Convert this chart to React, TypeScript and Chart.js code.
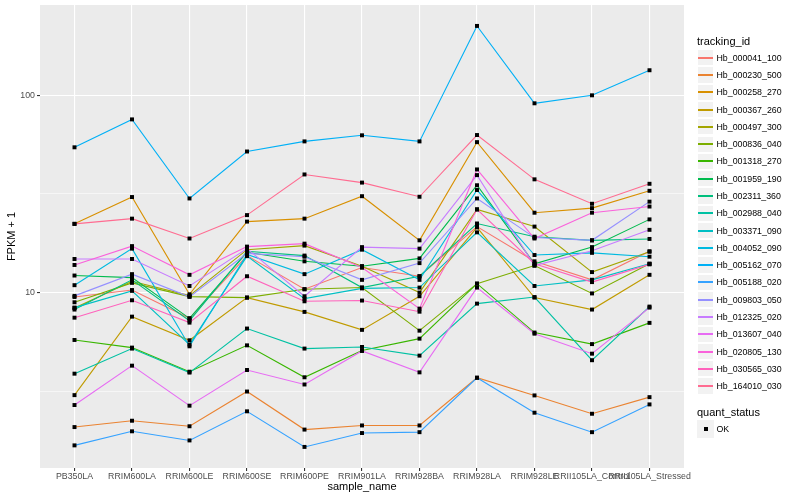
import React, { useEffect, useRef } from "react";
import { Chart, registerables } from "chart.js";

Chart.register(...registerables);

const categories = [
  "PB350LA",
  "RRIM600LA",
  "RRIM600LE",
  "RRIM600SE",
  "RRIM600PE",
  "RRIM901LA",
  "RRIM928BA",
  "RRIM928LA",
  "RRIM928LE",
  "RRII105LA_Control",
  "RRII105LA_Stressed",
];

const hb_000041_100 = [9.5, 10.3, 7.4, 15.4, 10.4, 13.4, 12.1, 21.6, 14.4, 11.6, 16.2];
const hb_000230_500 = [2.08, 2.24, 2.1, 3.15, 2.02, 2.12, 2.12, 3.7, 3.01, 2.43, 2.95];
const hb_000258_270 = [22.3, 30.5, 9.8, 22.9, 23.7, 30.8, 18.4, 57.9, 25.4, 26.8, 32.8];
const hb_000367_260 = [3.02, 7.55, 5.73, 9.43, 7.98, 6.47, 9.58, 21.4, 9.43, 8.2, 12.3];
const hb_000497_300 = [8.36, 11.4, 9.65, 16.5, 17.3, 13.6, 10.0, 26.4, 21.6, 12.7, 16.1];
const hb_000836_040 = [8.93, 11.2, 9.54, 9.43, 10.4, 10.6, 6.41, 11.1, 13.7, 9.9, 14.0];
const hb_001318_270 = [5.75, 5.26, 3.97, 5.4, 3.72, 5.08, 5.84, 11.1, 6.27, 5.48, 7.02];
const hb_001959_190 = [12.2, 11.9, 7.4, 16.0, 14.4, 13.6, 14.9, 35.0, 14.0, 17.0, 23.5];
const hb_002311_360 = [8.2, 11.6, 7.2, 16.2, 15.4, 10.6, 12.1, 22.4, 19.2, 18.4, 18.7];
const hb_002988_040 = [3.88, 5.2, 3.93, 6.57, 5.2, 5.3, 4.79, 8.79, 9.49, 4.54, 8.49];
const hb_003371_090 = [8.39, 10.2, 5.45, 15.3, 9.32, 10.5, 10.6, 20.2, 10.8, 11.6, 14.0];
const hb_004052_090 = [10.9, 16.7, 5.34, 15.6, 12.4, 16.5, 11.6, 33.1, 15.5, 15.9, 15.2];
const hb_005162_070 = [54.5, 75.5, 30.0, 51.9, 58.4, 62.7, 58.4, 224.8, 91.1, 100, 134];
const hb_005188_020 = [1.68, 1.98, 1.78, 2.5, 1.65, 1.94, 1.96, 3.7, 2.46, 1.96, 2.71];
const hb_009803_050 = [9.62, 12.4, 9.51, 15.8, 15.2, 11.6, 14.1, 30.0, 19.0, 18.4, 28.9];
const hb_012325_020 = [14.8, 14.8, 10.8, 16.7, 9.58, 17.0, 16.7, 39.4, 13.7, 16.3, 20.8];
const hb_013607_040 = [2.69, 4.26, 2.67, 4.05, 3.42, 5.06, 3.94, 10.6, 6.19, 4.9, 8.39];
const hb_020805_130 = [13.8, 17.2, 12.3, 17.1, 17.7, 13.4, 8.29, 42.1, 18.8, 25.4, 27.3];
const hb_030565_030 = [7.46, 9.14, 7.04, 12.1, 9.03, 9.11, 8.0, 26.4, 14.0, 11.3, 13.9];
const hb_164010_030 = [22.3, 23.7, 18.8, 24.7, 39.7, 36.1, 30.6, 62.9, 37.5, 28.2, 35.6];

const seriesNames = [
  "Hb_000041_100",
  "Hb_000230_500",
  "Hb_000258_270",
  "Hb_000367_260",
  "Hb_000497_300",
  "Hb_000836_040",
  "Hb_001318_270",
  "Hb_001959_190",
  "Hb_002311_360",
  "Hb_002988_040",
  "Hb_003371_090",
  "Hb_004052_090",
  "Hb_005162_070",
  "Hb_005188_020",
  "Hb_009803_050",
  "Hb_012325_020",
  "Hb_013607_040",
  "Hb_020805_130",
  "Hb_030565_030",
  "Hb_164010_030",
];

const seriesValues = [
  hb_000041_100,
  hb_000230_500,
  hb_000258_270,
  hb_000367_260,
  hb_000497_300,
  hb_000836_040,
  hb_001318_270,
  hb_001959_190,
  hb_002311_360,
  hb_002988_040,
  hb_003371_090,
  hb_004052_090,
  hb_005162_070,
  hb_005188_020,
  hb_009803_050,
  hb_012325_020,
  hb_013607_040,
  hb_020805_130,
  hb_030565_030,
  hb_164010_030,
];

const seriesColors = [
  "#F8766D",
  "#EA8331",
  "#D89000",
  "#C09B00",
  "#A3A500",
  "#7CAE00",
  "#39B600",
  "#00BB4E",
  "#00BF7D",
  "#00C1A3",
  "#00BFC4",
  "#00BAE0",
  "#00B0F6",
  "#35A2FF",
  "#9590FF",
  "#C77CFF",
  "#E76BF3",
  "#FA62DB",
  "#FF62BC",
  "#FF6C91",
];

const yMajorTicks = [10, 100];
const yMinorTicks = [3.1623, 31.623];
const yRange = [1.29, 287];

const FONT = "'Liberation Sans', Arial, Helvetica, sans-serif";

export default function App() {
  const ref = useRef<HTMLCanvasElement>(null);

  useEffect(() => {
    if (!ref.current) return;
    const panelBg = {
      id: "panelBg",
      beforeDraw(chart: any) {
        const { ctx, chartArea: a } = chart;
        ctx.save();
        ctx.fillStyle = "#EBEBEB";
        ctx.fillRect(a.left, a.top, a.right - a.left, a.bottom - a.top);
        ctx.restore();
      },
    };

    const lineSets = seriesValues.map((vals, i) => ({
      type: "line" as const,
      label: seriesNames[i],
      data: vals.map((v, j) => ({ x: j, y: v })),
      borderColor: seriesColors[i],
      backgroundColor: seriesColors[i],
      borderWidth: 1.1,
      pointRadius: 0,
      fill: false,
      tension: 0,
      order: 100 - i,
    }));
    const pointSets = seriesValues.map((vals, i) => ({
      type: "line" as const,
      label: seriesNames[i] + " OK",
      data: vals.map((v, j) => ({ x: j, y: v })),
      showLine: false,
      pointStyle: "rect",
      pointRadius: 2.8,
      pointBackgroundColor: "#000000",
      pointBorderColor: "#000000",
      pointBorderWidth: 0,
      order: 0,
    }));

    const allY = [...yMinorTicks, ...yMajorTicks].sort((a, b) => a - b);

    const chart = new Chart(ref.current, {
      type: "line",
      data: { datasets: [...lineSets, ...pointSets] as any },
      plugins: [panelBg],
      options: {
        animation: false,
        responsive: false,
        devicePixelRatio: 1,
        layout: { padding: { left: 0, right: 116, top: 5, bottom: 0 } },
        plugins: { legend: { display: false }, tooltip: { enabled: false } },
        scales: {
          x: {
            type: "linear",
            min: -0.6,
            max: categories.length - 1 + 0.6,
            afterBuildTicks: (s: any) => {
              s.ticks = categories.map((_, i) => ({ value: i }));
            },
            afterFit: (s: any) => {
              s.height = 32;
              s.paddingLeft = 0;
              s.paddingRight = 0;
            },
            ticks: {
              autoSkip: false,
              maxRotation: 0,
              minRotation: 0,
              padding: 0,
              color: "#4D4D4D",
              font: { family: FONT, size: 8.8 },
              callback: (v: any) => categories[v] ?? "",
            },
            grid: {
              color: "#FFFFFF",
              lineWidth: 1.1,
              drawTicks: true,
              tickLength: 3,
              tickColor: "#333333",
            },
            border: { display: false },
            title: {
              display: true,
              text: "sample_name",
              color: "#000000",
              font: { family: FONT, size: 11 },
              padding: { top: 0, bottom: 6 },
            },
          },
          y: {
            type: "logarithmic",
            min: yRange[0],
            max: yRange[1],
            afterBuildTicks: (s: any) => {
              s.ticks = allY.map((v) => ({ value: v }));
            },
            afterFit: (s: any) => {
              s.width = 40;
              s.paddingTop = 0;
              s.paddingBottom = 0;
            },
            ticks: {
              autoSkip: false,
              padding: 2,
              color: "#4D4D4D",
              font: { family: FONT, size: 8.8 },
              callback: (v: any) => (yMajorTicks.includes(v) ? String(v) : ""),
            },
            grid: {
              color: "#FFFFFF",
              lineWidth: (c: any) =>
                c.tick && yMajorTicks.includes(c.tick.value) ? 1.1 : 0.55,
              drawTicks: true,
              tickLength: 3,
              tickColor: (c: any) =>
                c.tick && yMajorTicks.includes(c.tick.value) ? "#333333" : "rgba(0,0,0,0)",
            },
            border: { display: false },
            title: {
              display: true,
              text: "FPKM + 1",
              color: "#000000",
              font: { family: FONT, size: 11 },
              padding: { top: 5, bottom: 0 },
            },
          },
        },
      } as any,
    });
    return () => chart.destroy();
  }, []);

  const rowH = 17.28;
  const firstTop = 49.1;
  const keyLeft = 697;
  const textLeft = 716.5;

  return (
    <div
      style={{
        position: "absolute",
        left: 0,
        top: 0,
        width: 800,
        height: 500,
        background: "#FFFFFF",
        fontFamily: FONT,
        overflow: "hidden",
      }}
    >
      <canvas ref={ref} width={800} height={500} style={{ position: "absolute", left: 0, top: 0 }} />
      <div
        style={{
          position: "absolute",
          left: keyLeft,
          top: 40.7 - 7,
          height: 14,
          lineHeight: "14px",
          fontSize: 11,
          color: "#000",
          whiteSpace: "nowrap",
        }}
      >
        tracking_id
      </div>
      {seriesNames.map((name, i) => {
        const top = firstTop + rowH * i;
        const center = Math.round(top + rowH / 2);
        return (
          <React.Fragment key={name}>
            <div
              style={{
                position: "absolute",
                left: keyLeft,
                top,
                width: rowH,
                height: rowH,
                background: "#F2F2F2",
                boxSizing: "border-box",
                border: "0.6px solid #FFFFFF",
              }}
            />
            <div
              style={{
                position: "absolute",
                left: keyLeft + 1,
                width: 15,
                top: center - 1,
                height: 1.6,
                background: seriesColors[i],
              }}
            />
            <div
              style={{
                position: "absolute",
                left: textLeft,
                top: top + rowH / 2 - 6,
                height: 12,
                lineHeight: "12px",
                fontSize: 8.8,
                color: "#000",
                whiteSpace: "nowrap",
              }}
            >
              {name}
            </div>
          </React.Fragment>
        );
      })}
      <div
        style={{
          position: "absolute",
          left: keyLeft,
          top: 412.3 - 7,
          height: 14,
          lineHeight: "14px",
          fontSize: 11,
          color: "#000",
          whiteSpace: "nowrap",
        }}
      >
        quant_status
      </div>
      <div
        style={{
          position: "absolute",
          left: keyLeft,
          top: 429 - rowH / 2,
          width: rowH,
          height: rowH,
          background: "#F2F2F2",
        }}
      />
      <div
        style={{
          position: "absolute",
          left: 704,
          top: 427,
          width: 4,
          height: 4,
          background: "#000",
        }}
      />
      <div
        style={{
          position: "absolute",
          left: textLeft,
          top: 429 - 6,
          height: 12,
          lineHeight: "12px",
          fontSize: 8.8,
          color: "#000",
          whiteSpace: "nowrap",
        }}
      >
        OK
      </div>
    </div>
  );
}
